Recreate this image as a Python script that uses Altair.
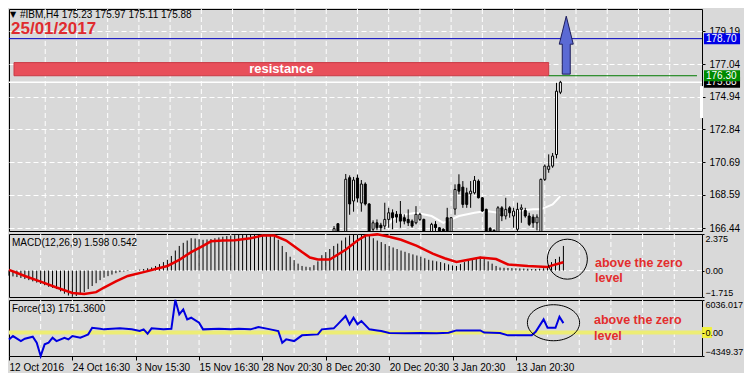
import altair as alt
import pandas as pd

FONT = "Liberation Sans"
BG = "#d9d9d9"
W = 693
H_MAIN, H_MACD, H_FORCE = 222, 63, 56
X_MAX = 175

# ---------------- texts ----------------
title_text = "#IBM,H4  175.23 175.97 175.11 175.88"
date_text = "25/01/2017"
res_text = "resistance"
note_text = "above the zero\nlevel"

# ---------------- x axis (bar index, 4h bars) ----------------
x_label_idx = [0, 16, 32, 48, 64, 80, 96, 112, 128]
x_labels = ["12 Oct 2016", "24 Oct 16:30", "3 Nov 15:30", "15 Nov 16:30",
            "28 Nov 20:30", "8 Dec 20:30", "20 Dec 20:30", "3 Jan 20:30", "13 Jan 20:30"]
grid_idx = list(range(8, X_MAX, 8))

# ---------------- price panel ----------------
price_ticks = [166.44, 168.59, 170.69, 172.84, 174.94, 177.04, 179.19]

bar_idx = [82, 83, 85, 86, 87, 88, 89, 90, 91, 92, 93, 94, 95, 96, 97, 98, 99, 100, 101, 102, 103, 104, 105,
           107, 108, 109, 110, 111, 112, 113, 114, 115, 116, 117, 118, 119, 120, 121, 122, 123, 124, 125, 126,
           127, 128, 129, 130, 131, 132, 133, 134, 135, 136, 137, 138, 139, 140]
opens = [166.00, 166.72,
         165.80, 169.70, 168.19, 169.68, 168.06, 169.29, 168.00, 166.36, 166.78, 166.63, 166.57, 167.00, 167.43,
         167.33, 167.33, 167.11, 167.00, 166.89, 166.78, 167.00, 167.00,
         166.00, 166.68, 166.46, 166.37, 167.11, 166.00, 167.67, 169.27, 169.09, 168.72, 168.66, 168.72, 169.48,
         168.40, 167.65, 166.42, 166.30, 166.00, 167.75, 167.22, 167.75, 167.22, 166.36, 167.65, 167.58, 167.22,
         167.15, 166.78, 166.00, 169.59, 170.24, 170.45, 171.20, 175.23]
highs = [166.57, 166.75,
         169.94, 169.85, 169.75, 169.90, 169.55, 169.40, 168.05, 166.94, 167.00, 166.78, 168.08, 167.75, 167.65,
         167.54, 168.19, 167.33, 167.65, 167.00, 167.86, 167.43, 167.05,
         166.78, 166.89, 166.50, 166.42, 167.75, 167.15, 169.27, 169.92, 169.48, 169.05, 169.48, 169.81, 169.59,
         168.45, 167.70, 166.50, 166.35, 167.86, 167.86, 168.40, 167.86, 167.75, 168.08, 167.97, 167.75, 167.43,
         167.33, 167.33, 169.65, 170.56, 171.21, 171.30, 175.84, 175.97]
lows = [165.80, 165.80,
        165.50, 167.30, 167.50, 168.10, 167.50, 167.90, 165.50, 166.25, 166.30, 166.20, 166.36, 166.46, 166.36,
        166.78, 166.46, 166.68, 166.57, 166.46, 166.68, 166.89, 165.50,
        165.50, 166.25, 165.80, 165.80, 165.50, 165.60, 167.30, 168.62, 167.75, 167.75, 167.75, 168.62, 168.36,
        167.50, 165.50, 165.80, 165.80, 165.50, 166.89, 167.00, 167.11, 166.46, 165.80, 166.78, 167.11, 166.57,
        166.46, 166.29, 165.50, 169.48, 170.02, 170.34, 170.95, 175.11]
closes = [166.40, 166.10,
          169.60, 168.00, 169.55, 168.38, 169.29, 168.00, 165.90, 166.78, 166.46, 166.46, 167.00, 167.43, 167.11,
          167.15, 166.89, 166.89, 166.78, 166.57, 167.33, 167.33, 166.00,
          166.68, 166.46, 166.20, 166.25, 166.00, 167.11, 168.94, 168.83, 167.97, 167.97, 168.83, 169.53, 168.40,
          167.54, 166.00, 166.10, 166.10, 167.75, 167.22, 167.65, 167.43, 167.54, 167.65, 167.75, 167.22, 166.68,
          166.78, 167.15, 169.59, 170.45, 170.45, 171.10, 175.30, 175.88]

ma_idx = [95, 98, 103, 107, 110, 114, 118, 121, 124, 129, 133, 135, 138, 140]
ma_vals = [166.46, 167.22, 167.43, 167.22, 166.78, 167.22, 167.43, 167.54, 167.43, 167.54, 167.65, 167.65,
           167.97, 168.51]

res_span = [0, 137]
res_prices = [176.30, 177.15]
target_price = 178.70
bid_price = 175.88
support_price = 176.30
arrow_at = [141.5, 178.28]
marker_prices = [175.63, 173.56]
tag_prices = [175.88, 176.30, 178.70]
tag_colors = ["#000000", "#008a00", "#0000e6"]

# ---------------- MACD panel ----------------
macd_hist = [-0.33, -0.38, -0.42, -0.48, -0.55, -0.62, -0.70, -0.78, -0.87, -0.95,
             -1.05, -1.12, -1.20, -1.35, -1.50, -1.62, -1.70, -1.65, -1.55, -1.40,
             -1.20, -1.00, -0.82, -0.62, -0.46, -0.36, -0.26, -0.17, -0.10, -0.06,
             -0.03, -0.01, 0.02, 0.06, 0.10, 0.15, 0.20, 0.30, 0.42, 0.55,
             0.70, 0.95, 1.30, 1.60, 1.80, 1.95, 2.10, 2.08, 2.03, 2.00,
             2.02, 2.05, 2.10, 2.15, 2.20, 2.24, 2.27, 2.30, 2.31, 2.32,
             2.33, 2.34, 2.35, 2.36, 2.36, 2.35, 2.33, 2.20, 2.00, 1.60,
             1.20, 0.90, 0.68, 0.45, 0.30, 0.25, 0.22, 0.35, 0.60, 1.00,
             1.20, 1.40, 1.60, 1.75, 1.95, 2.15, 2.28, 2.33, 2.36, 2.37,
             2.36, 2.30, 2.10, 1.95, 1.85, 1.72, 1.60, 1.50, 1.40, 1.30,
             1.22, 1.13, 1.05, 0.98, 0.90, 0.80, 0.70, 0.65, 0.60, 0.55,
             0.48, 0.40, 0.33, 0.30, 0.42, 0.55, 0.70, 0.78, 0.85, 0.90,
             0.75, 0.60, 0.45, 0.30, 0.20, 0.18, 0.17, 0.16, 0.15, 0.14,
             0.13, 0.12, 0.10, 0.10, 0.12, 0.15, 0.20, 0.55, 0.75, 0.90,
             1.598]
sig_idx = [0, 4, 8, 12, 16, 19, 22, 24, 27, 30, 34, 37, 40, 43, 46, 49, 51, 54, 57, 61, 64, 67, 70, 72, 74,
           76, 78, 81, 85, 88, 90, 93, 96, 99, 103, 107, 110, 113, 116, 119, 123, 126, 131, 136, 138, 140]
sig_vals = [0.05, -0.35, -0.72, -1.10, -1.45, -1.52, -1.40, -1.10, -0.70, -0.35, -0.10, 0.10, 0.30, 0.70, 1.20,
            1.60, 1.90, 1.95, 1.97, 2.10, 2.27, 2.27, 1.95, 1.58, 1.20, 0.85, 0.72, 0.72, 1.35, 1.95, 2.27, 2.35,
            2.20, 2.00, 1.60, 1.10, 0.80, 0.56, 0.70, 0.85, 0.75, 0.40, 0.30, 0.23, 0.40, 0.542]
macd_ticks = [-1.715, 0, 2.375]
macd_circle = [141, 0.74]

# ---------------- Force panel ----------------
force_idx = [0, 1, 3, 4, 6, 7, 8, 9, 10, 11, 12, 14, 15, 16, 18, 19, 20, 21, 23, 24, 28, 31, 33, 34, 35, 36, 39,
             41, 42, 43, 44, 45, 46, 48, 49, 53, 56, 58, 61, 63, 66, 68, 69, 70, 72, 74, 78, 79, 82, 83, 85, 86,
             87, 88, 89, 91, 93, 94, 96, 100, 104, 108, 111, 113, 119, 120, 124, 126, 132, 133, 135, 136, 138,
             139, 140]
force_vals = [-1270, -650, -1580, -1150, -770, -1890, -4349, -2190, -1890, -960, -1580, -960, -1270, -650, -960,
              -650, -340, 895, 700, 590, 780, 590, 280, 590, -220, 780, 590,
              700, 6036, 3370, 4300, 2450, 2750, 1820, 590, 700, 590, 700, 590, 1020, 590, 280, -1890, -1270,
              -1580, -520, -340, 590, 780, 1520, 3060, 1520,
              2750, 1520, 2130, 590, 400, 280, -100, -150, -100, -150, -50, 400, 400, 0, -80, -520, -520, 150,
              2440, 890, 890, 2930, 1751]
force_ticks = [-4349.37, 0, 6036.017]
force_ellipse = [137.5, 1820]

# ---------------- shapes ----------------
ARROW = "M0,-4.14 L1,-0.14 L0.57,-0.14 L0.57,4.14 L-0.57,4.14 L-0.57,-0.14 L-1,-0.14 Z"
TAG = "M-1.64,-0.5 L1.64,-0.5 L1.64,0.5 L-1.64,0.5 Z"
ZBOX = "M-0.45,-0.5 L0.45,-0.5 L0.45,0.5 L-0.45,0.5 Z"
ELLIPSE = "M-1.45,0 A1.45,1 0 1,0 1.45,0 A1.45,1 0 1,0 -1.45,0 Z"

# ---------------- scales / axes ----------------
xscale = alt.Scale(domain=[0, X_MAX], nice=False, zero=False)


def xenc(field, axis=None):
    return alt.X(field, type="quantitative", scale=xscale, axis=axis)


ys_main = alt.Scale(domain=[166.25, 180.62], nice=False, zero=False)
main_axis = alt.Axis(orient="right", values=price_ticks, format=".2f", title=None, grid=True,
                     gridColor="white", gridDash=[5, 3], gridOpacity=1, gridWidth=1, domain=False,
                     tickColor="black", tickSize=3, labelPadding=4, labelFont=FONT, labelFontSize=10,
                     labelColor="black", labelOverlap=False)


def ymain(field):
    return alt.Y(field, type="quantitative", scale=ys_main, axis=main_axis)


ys_macd = alt.Scale(domain=[-1.715, 2.375], nice=False, zero=False)
macd_axis = alt.Axis(orient="right", values=macd_ticks, title=None, grid=False, domain=False,
                     labelExpr="datum.value == 0 ? '0.00' : format(datum.value, '.3f')",
                     tickColor="black", tickSize=2, labelPadding=1, labelFont=FONT, labelFontSize=9,
                     labelColor="black", labelFlush=True, labelOverlap=False)


def ymacd(field):
    return alt.Y(field, type="quantitative", scale=ys_macd, axis=macd_axis)


ys_force = alt.Scale(domain=[-4349.37, 6036.017], nice=False, zero=False)
force_axis = alt.Axis(orient="right", values=force_ticks, title=None, grid=False, domain=False, zindex=1,
                      labelExpr="datum.value == 0 ? '0.00' : (datum.value > 0 ? format(datum.value, '.3f') : format(datum.value, '.2f'))",
                      tickColor="black", tickSize=2, labelPadding=1, labelFont=FONT, labelFontSize=9,
                      labelColor="black", labelFlush=True, labelOverlap=False)


def yforce(field):
    return alt.Y(field, type="quantitative", scale=ys_force, axis=force_axis)


label_array = "[" + ",".join("'" + s + "'" for s in x_labels) + "]"
force_x_axis = alt.Axis(orient="bottom", values=x_label_idx, title=None, grid=False, domain=False,
                        labelExpr=label_array + "[round(datum.value / 16)]",
                        tickColor="black", tickSize=4, labelPadding=2, labelAlign="left",
                        labelFont=FONT, labelFontSize=10, labelColor="black",
                        labelFlush=False, labelOverlap=False, labelBound=False)

grid_df = pd.DataFrame({"i": grid_idx})


def vgrid(axis=None):
    return alt.Chart(grid_df).mark_rule(color="white", strokeDash=[5, 3], strokeWidth=1).encode(
        x=xenc("i", axis))


def text_layer(txt, x, y, **kw):
    return alt.Chart(pd.DataFrame({"t": [txt]})).mark_text(**kw).encode(
        x=alt.value(x), y=alt.value(y), text=alt.Text("t:N"))


# ---------------- main panel ----------------
cdf = pd.DataFrame({"i": bar_idx, "open": opens, "high": highs, "low": lows, "close": closes})
res_df = pd.DataFrame({"i0": [res_span[0]], "i1": [res_span[1]], "p0": [res_prices[0]],
                       "p1": [res_prices[1]], "t": [res_text]})

main_layers = [
    vgrid(),
    alt.Chart(res_df).mark_rect(fill="#e84f5a", stroke="#c93a45", strokeWidth=1).encode(
        x=xenc("i0"), x2="i1", y=ymain("p0"), y2="p1"),
    alt.Chart(res_df).transform_calculate(ic="(datum.i0 + datum.i1) / 2", pc="(datum.p0 + datum.p1) / 2")
    .mark_text(color="white", font=FONT, fontSize=13, fontWeight="bold", baseline="middle").encode(
        x=xenc("ic"), y=ymain("pc"), text="t:N"),
    alt.Chart(pd.DataFrame({"p": [target_price]})).mark_rule(color="#0000c0", strokeWidth=1).encode(
        y=ymain("p")),
    alt.Chart(pd.DataFrame({"p": [bid_price]})).mark_rule(color="white", strokeWidth=1.5).encode(
        y=ymain("p")),
    alt.Chart(pd.DataFrame({"i0": [res_span[1]], "i1": [X_MAX], "p": [support_price]}))
    .mark_rule(color="#007a00", strokeWidth=1).encode(x=xenc("i0"), x2="i1", y=ymain("p")),
    alt.Chart(pd.DataFrame({"i": ma_idx, "m": ma_vals})).mark_line(color="white", strokeWidth=2, clip=True)
    .encode(x=xenc("i"), y=ymain("m")),
    alt.Chart(cdf).mark_rule(color="black", strokeWidth=1, clip=True).encode(
        x=xenc("i"), y=ymain("low"), y2="high"),
    alt.Chart(cdf).mark_bar(size=2, stroke="black", strokeWidth=1, clip=True).encode(
        x=xenc("i"), y=ymain("open"), y2="close",
        fill=alt.condition("datum.close >= datum.open", alt.value("white"), alt.value("black"))),
    alt.Chart(pd.DataFrame({"i": [arrow_at[0]], "p": [arrow_at[1]]})).mark_point(
        shape=ARROW, size=196, filled=True, fill="#5b6ad4", stroke="#1c1c5c", strokeWidth=1, opacity=1)
    .encode(x=xenc("i"), y=ymain("p")),
    alt.Chart(pd.DataFrame({"p0": [marker_prices[0]], "p1": [marker_prices[1]]})).mark_rect(color="white")
    .encode(x=alt.value(W - 2), x2=alt.value(W + 1), y=ymain("p0"), y2="p1"),
]
for p, col in zip(tag_prices, tag_colors):
    d = pd.DataFrame({"p": [p], "t": [f"{p:.2f}"]})
    main_layers.append(alt.Chart(d).mark_point(shape=TAG, size=484, filled=True, fill=col, strokeWidth=0,
                                               opacity=1).encode(x=alt.value(W + 20), y=ymain("p")))
    main_layers.append(alt.Chart(d).mark_text(color="white", font=FONT, fontSize=10, align="left",
                                              baseline="middle").encode(x=alt.value(W + 4), y=ymain("p"),
                                                                        text="t:N"))
main_layers += [
    text_layer("\u25bc", 4, 5.5, font="DejaVu Sans", fontSize=8, color="black", align="center", baseline="middle"),
    text_layer(title_text, 11, 5.5, font=FONT, fontSize=10, color="black", align="left", baseline="middle"),
    text_layer(date_text, 2, 20, font=FONT, fontSize=17, fontWeight="bold", color="#e02b2f", align="left",
               baseline="middle"),
]
main = alt.layer(*main_layers).properties(width=W, height=H_MAIN)

# ---------------- MACD panel ----------------
macd_df = pd.DataFrame({"i": list(range(len(macd_hist))), "h": macd_hist})
macd_df["z"] = 0.0
macd_layers = [
    vgrid(),
    alt.Chart(pd.DataFrame({"z": [0.0]})).mark_rule(color="white", strokeDash=[5, 3], strokeWidth=1).encode(
        y=ymacd("z")),
    alt.Chart(macd_df).mark_rule(color="black", strokeWidth=1).encode(x=xenc("i"), y=ymacd("h"), y2="z"),
    alt.Chart(pd.DataFrame({"i": sig_idx, "s": sig_vals})).mark_line(color="#e60000", strokeWidth=2.5).encode(
        x=xenc("i"), y=ymacd("s")),
    alt.Chart(pd.DataFrame({"i": [macd_circle[0]], "v": [macd_circle[1]]})).mark_point(
        shape="circle", size=1600, filled=False, color="black", strokeWidth=1, opacity=1).encode(
        x=xenc("i"), y=ymacd("v")),
    text_layer(note_text, 586, 28.5, font=FONT, fontSize=12.5, fontWeight="bold", color="#e32d2d",
               align="left", baseline="middle", lineBreak="\n", lineHeight=15),
    text_layer("MACD(12,26,9) 1.598 0.542", 3, 9, font=FONT, fontSize=10, color="black", align="left",
               baseline="middle"),
]
macd = alt.layer(*macd_layers).properties(width=W, height=H_MACD)

# ---------------- Force panel ----------------
force_layers = [
    vgrid(force_x_axis),
    alt.Chart(pd.DataFrame({"z": [0.0]})).mark_rule(color="#eded74", strokeWidth=4).encode(y=yforce("z")),
    alt.Chart(pd.DataFrame({"i": force_idx, "f": force_vals})).mark_line(color="#0000e0", strokeWidth=2)
    .encode(x=xenc("i", force_x_axis), y=yforce("f")),
    alt.Chart(pd.DataFrame({"i": [force_ellipse[0]], "v": [force_ellipse[1]]})).mark_point(
        shape=ELLIPSE, size=1296, filled=False, color="black", strokeWidth=1, opacity=1).encode(
        x=xenc("i", force_x_axis), y=yforce("v")),
    text_layer(note_text, 585, 19.7, font=FONT, fontSize=12.5, fontWeight="bold", color="#e32d2d",
               align="left", baseline="middle", lineBreak="\n", lineHeight=16),
    text_layer("Force(13) 1751.3600", 3, 9, font=FONT, fontSize=10, color="black", align="left",
               baseline="middle"),
    alt.Chart(pd.DataFrame({"z": [0.0]})).mark_point(shape=ZBOX, size=484, filled=True, fill="#f2f23c",
                                                     strokeWidth=0, opacity=1).encode(
        x=alt.value(W + 5), y=yforce("z")),
]
force = alt.layer(*force_layers).properties(width=W, height=H_FORCE)

chart = alt.vconcat(main, macd, force, spacing=3, bounds="flush").properties(
    padding={"left": -5, "top": 0, "right": 0, "bottom": 0}, background=BG
).configure_view(stroke="black", strokeWidth=1)

chart.save("out.html", embed_options={"renderer": "svg", "actions": False})
